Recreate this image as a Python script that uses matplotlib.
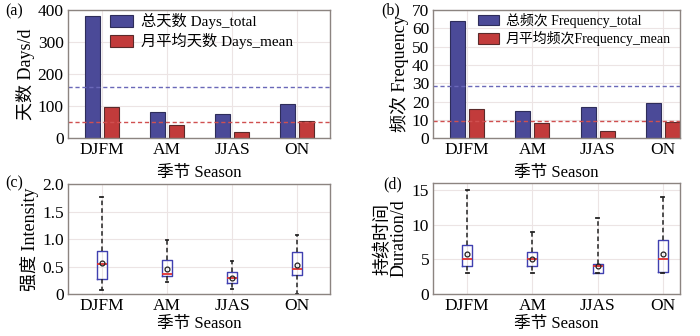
import numpy as np
import matplotlib.pyplot as plt

plt.rcParams['font.family'] = ['Liberation Serif', 'Noto Sans CJK SC']
plt.rcParams['font.size'] = 10

# seasons
seasons = ["DJFM", "AM", "JJAS", "ON"]

# (a) days
days_total = [383, 80, 75, 106]
days_mean = [96, 41, 19, 52]
days_total_avg = 160
days_mean_avg = 50

# (b) frequency
freq_total = [64, 15, 17, 19]
freq_mean = [16, 8, 4, 9]
freq_total_avg = 28.5
freq_mean_avg = 9.5

# (c) intensity box stats: whislo, q1, med, q3, whishi, mean
int_lo = [0.08, 0.21, 0.10, 0.0]
int_q1 = [0.28, 0.33, 0.20, 0.35]
int_med = [0.55, 0.37, 0.30, 0.45]
int_q3 = [0.79, 0.62, 0.40, 0.77]
int_hi = [1.77, 0.98, 0.60, 1.08]
int_mean = [0.57, 0.45, 0.30, 0.52]

# (d) duration box stats
dur_lo = [3, 3, 3, 3]
dur_q1 = [4, 4, 3, 3.2]
dur_med = [5, 5, 4, 5]
dur_q3 = [7, 6, 4.3, 7.8]
dur_hi = [15, 9, 11, 14]
dur_mean = [5.7, 5.0, 4.1, 5.8]

blue = '#4b4a98'
red = '#c23b3b'
spine_c = '#8c8480'
grid_c = '#ece4e4'

fig = plt.figure(figsize=(7, 3.36), dpi=100)
ax_a = fig.add_axes([0.097, 0.589, 0.374, 0.381])
ax_b = fig.add_axes([0.619, 0.589, 0.352, 0.381])
ax_c = fig.add_axes([0.097, 0.125, 0.374, 0.327])
ax_d = fig.add_axes([0.619, 0.125, 0.352, 0.330])

x = np.arange(1, len(seasons) + 1)


def style(ax, lp):
    for s in ax.spines.values():
        s.set_color(spine_c)
        s.set_linewidth(1.0)
    ax.grid(True, color=grid_c, linewidth=0.8)
    ax.set_axisbelow(True)
    ax.tick_params(length=0, labelsize=12.5, pad=3)
    ax.set_xticks(x)
    ax.set_xticklabels(seasons)
    ax.set_xlabel("季节 Season", fontsize=12, labelpad=lp)


def bars(ax, total, mean, total_avg, mean_avg, lab_t, lab_m, lx, fs):
    ax.bar(x - 0.146, total, 0.23, color=blue, edgecolor='#2e2d5a', linewidth=0.8, label=lab_t)
    ax.bar(x + 0.146, mean, 0.23, color=red, edgecolor='#5a2a2a', linewidth=0.8, label=lab_m)
    ax.axhline(total_avg, color='#6a68b8', linestyle=(0, (3, 2)), linewidth=1.0)
    ax.axhline(mean_avg, color='#d05050', linestyle=(0, (3, 2)), linewidth=1.0)
    ax.legend(loc='upper left', frameon=False, fontsize=fs, handlelength=1.5,
              handleheight=0.8, handletextpad=0.5, labelspacing=0.25,
              borderaxespad=0.0, borderpad=0.2, bbox_to_anchor=(lx, 1.0))


def boxes(ax, lo, q1, med, q3, hi, mean):
    stats = []
    for i in range(len(seasons)):
        stats.append(dict(whislo=lo[i], q1=q1[i], med=med[i], q3=q3[i],
                          whishi=hi[i], mean=mean[i], fliers=[]))
    ax.bxp(stats, positions=x, widths=0.155, showmeans=True,
           boxprops=dict(color='#4040b0', linewidth=1.0),
           medianprops=dict(color='#e03030', linewidth=1.3),
           whiskerprops=dict(color='#222222', linestyle=(0, (3, 2)), linewidth=1.1),
           capprops=dict(color='#222222', linewidth=1.3),
           capwidths=0.04,
           meanprops=dict(marker='o', markerfacecolor='none', markeredgecolor='#222222',
                          markersize=3.5, markeredgewidth=0.9))


# (a)
bars(ax_a, days_total, days_mean, days_total_avg, days_mean_avg,
     "总天数 Days_total", "月平均天数 Days_mean", 0.15, 11)
style(ax_a, 5)
ax_a.set_xlim(0.48, 4.5)
ax_a.set_ylim(0, 400)
ax_a.set_yticks([0, 100, 200, 300, 400])
ax_a.set_ylabel("天数 Days/d", fontsize=13, labelpad=2)

# (b)
bars(ax_b, freq_total, freq_mean, freq_total_avg, freq_mean_avg,
     "总频次 Frequency_total", "月平均频次Frequency_mean", 0.17, 10)
style(ax_b, 5)
ax_b.set_xlim(0.48, 4.26)
ax_b.set_ylim(0, 70)
ax_b.set_yticks(range(0, 71, 10))
ax_b.set_ylabel("频次 Frequency", fontsize=13, labelpad=2)

# (c)
boxes(ax_c, int_lo, int_q1, int_med, int_q3, int_hi, int_mean)
style(ax_c, 1)
ax_c.set_xlim(0.48, 4.5)
ax_c.set_ylim(0, 2.0)
ax_c.set_yticks([0, 0.5, 1.0, 1.5, 2.0])
ax_c.set_yticklabels(["0", "0.5", "1.0", "1.5", "2.0"])
ax_c.set_ylabel("强度 Intensity", fontsize=13, labelpad=2)

# (d)
boxes(ax_d, dur_lo, dur_q1, dur_med, dur_q3, dur_hi, dur_mean)
style(ax_d, 1)
ax_d.set_xlim(0.48, 4.26)
ax_d.set_ylim(0, 16)
ax_d.set_yticks([0, 5, 10, 15])
ax_d.set_ylabel("持续时间\nDuration/d", fontsize=13, labelpad=3, linespacing=0.95)

fig.text(0.008, 0.965, "(a)", fontsize=11.5, va='center')
fig.text(0.545, 0.970, "(b)", fontsize=11.5, va='center')
fig.text(0.008, 0.455, "(c)", fontsize=11.5, va='center')
fig.text(0.548, 0.452, "(d)", fontsize=11.5, va='center')

fig.savefig("out.png", dpi=100)
